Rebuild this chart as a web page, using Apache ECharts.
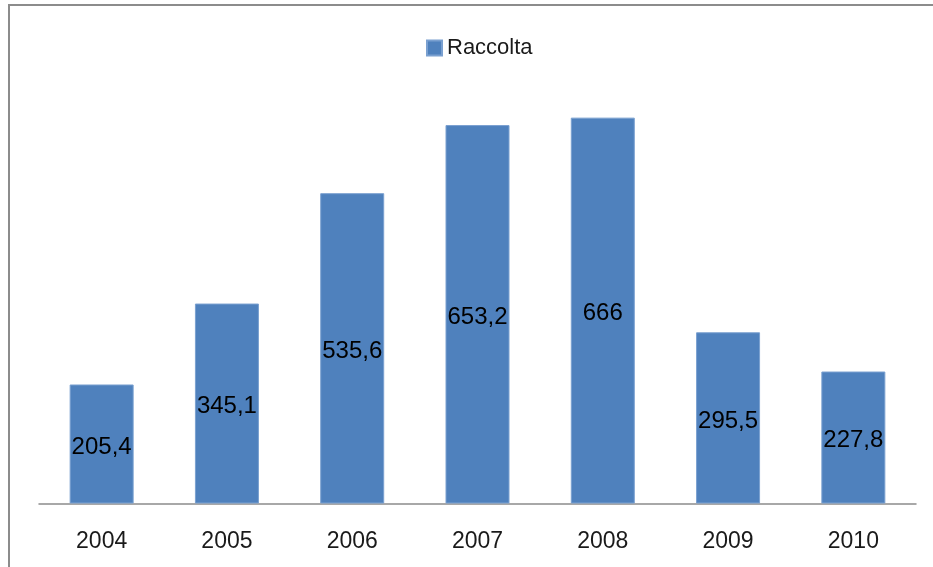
<!DOCTYPE html>
<html>
<head>
<meta charset="utf-8">
<script src="https://cdn.jsdelivr.net/npm/echarts@6/dist/echarts.min.js"></script>
<style>html,body{margin:0;padding:0;background:#fff;}#c{width:933px;height:567px;}</style>
</head>
<body>
<div id="c"></div>
<script>
var categories = ['2004', '2005', '2006', '2007', '2008', '2009', '2010'];
var seriesName = 'Raccolta';
var values = [205.4, 345.1, 535.6, 653.2, 666, 295.5, 227.8];

var chart = echarts.init(document.getElementById('c'));
var font = "'Liberation Sans', Arial, sans-serif";
chart.setOption({
  animation: false,
  backgroundColor: '#fff',
  textStyle: { fontFamily: font },
  graphic: [{
    type: 'rect', silent: true,
    shape: { x: 9, y: 5, width: 1000, height: 1000 },
    style: { fill: 'none', stroke: '#8c8c8c', lineWidth: 2 }
  }],
  legend: {
    data: [seriesName], left: 426, top: 37, padding: 0,
    itemWidth: 15, itemHeight: 15, itemGap: 6,
    icon: 'rect',
    textStyle: { fontFamily: font, fontSize: 22, color: '#1a1a1a' }
  },
  grid: { left: 39, right: 17, top: 40, bottom: 63.5 },
  xAxis: {
    type: 'category', data: categories,
    axisLine: { lineStyle: { color: '#8c8c8c', width: 1.5 } },
    axisTick: { show: false },
    axisLabel: { fontFamily: font, fontSize: 23, color: '#1a1a1a', margin: 27 }
  },
  yAxis: {
    type: 'value', min: 0, max: 800, show: false,
    splitLine: { show: false }
  },
  series: [{
    name: seriesName, type: 'bar', data: values, barWidth: 64,
    itemStyle: { color: '#4f81bd', borderColor: '#7aa0d0', borderWidth: 1 },
    label: {
      show: true, position: 'inside', color: '#000', offset: [0, 3],
      fontFamily: font, fontSize: 24,
      formatter: function (p) { return String(p.value).replace('.', ','); }
    }
  }]
});
</script>
</body>
</html>
